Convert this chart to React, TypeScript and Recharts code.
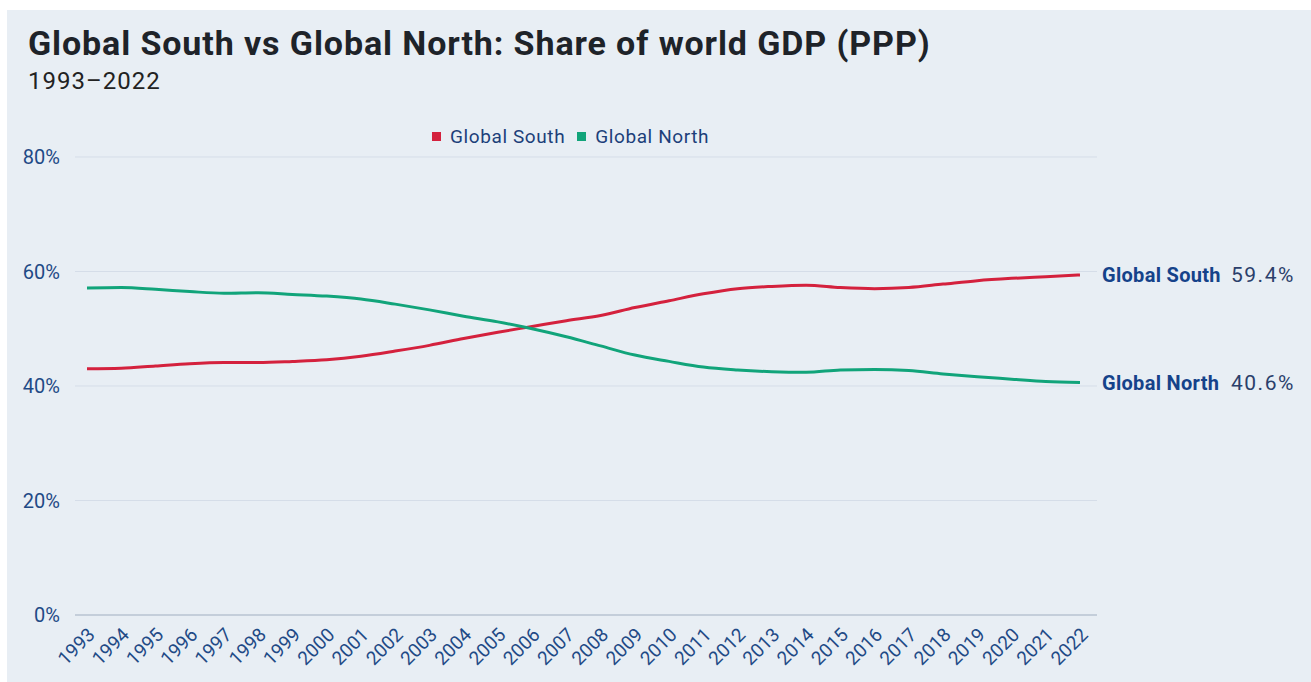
import { LineChart, Line, XAxis, YAxis, CartesianGrid } from 'recharts';

const years = [
  '1993', '1994', '1995', '1996', '1997', '1998', '1999', '2000', '2001', '2002',
  '2003', '2004', '2005', '2006', '2007', '2008', '2009', '2010', '2011', '2012',
  '2013', '2014', '2015', '2016', '2017', '2018', '2019', '2020', '2021', '2022',
];

const globalSouth = [
  43.0, 43.1, 43.5, 43.9, 44.1, 44.1, 44.3, 44.6, 45.2, 46.1,
  47.1, 48.3, 49.4, 50.4, 51.4, 52.3, 53.7, 54.9, 56.1, 57.0,
  57.4, 57.6, 57.2, 57.0, 57.2, 57.8, 58.4, 58.8, 59.1, 59.4,
];

const globalNorth = [
  57.1, 57.2, 56.9, 56.5, 56.2, 56.3, 56.0, 55.7, 55.2, 54.3,
  53.3, 52.2, 51.2, 50.0, 48.6, 47.0, 45.4, 44.3, 43.3, 42.8,
  42.5, 42.4, 42.8, 42.9, 42.7, 42.1, 41.6, 41.2, 40.8, 40.6,
];

const yTicks = [0, 20, 40, 60, 80];

const SOUTH_COLOR = '#d4213d';
const NORTH_COLOR = '#11a47a';
const BG = '#e8eef4';
const FONT = 'Roboto, "Noto Sans", sans-serif';

const data = years.map((year, i) => ({
  year,
  south: globalSouth[i],
  north: globalNorth[i],
}));

const YearTick = ({ x, y, payload }: any) => (
  <text
    x={x + 9}
    y={y + 13}
    transform={`rotate(-45, ${x + 9}, ${y + 13})`}
    textAnchor="end"
    fill="#1f4a86"
    fontSize={19}
    fontFamily={FONT}
  >
    {payload.value}
  </text>
);

const endLabel = (name: string, last: number) => (props: any) => {
  const { x, y, index, value } = props;
  if (index !== last) return null;
  return (
    <g fontFamily={FONT}>
      <text x={x + 22} y={y} dy="0.35em" fill="#15428a" fontWeight="bold" fontSize={20} letterSpacing={0.3}>
        {name}
      </text>
      <text x={x + 151} y={y} dy="0.35em" fill="#2b3f6b" fontSize={21} letterSpacing={1.5}>
        {`${value.toFixed(1)}%`}
      </text>
    </g>
  );
};

export default function App() {
  const last = years.length - 1;
  return (
    <div style={{ position: 'absolute', left: 0, top: 0, width: 1311, height: 682, background: '#fff', overflow: 'hidden' }}>
      <div style={{ position: 'absolute', left: 7, top: 10, width: 1304, height: 672, background: BG, fontFamily: FONT }}>
        <div style={{ position: 'absolute', left: 21, top: 13, fontSize: 34, letterSpacing: 0.9, fontWeight: 'bold', color: '#1e2329', whiteSpace: 'nowrap' }}>
          Global South vs Global North: Share of world GDP (PPP)
        </div>
        <div style={{ position: 'absolute', left: 21, top: 57, fontSize: 24, letterSpacing: 1, color: '#222', whiteSpace: 'nowrap' }}>
          1993–2022
        </div>
        <div style={{ position: 'absolute', left: 425, top: 115, fontSize: 19, letterSpacing: 0.6, color: '#1c3f7a', display: 'flex', alignItems: 'center', whiteSpace: 'nowrap' }}>
          <span style={{ width: 9, height: 9, background: SOUTH_COLOR, marginRight: 9, display: 'inline-block' }} />
          <span style={{ marginRight: 12 }}>Global South</span>
          <span style={{ width: 9, height: 9, background: NORTH_COLOR, marginRight: 9, display: 'inline-block' }} />
          <span>Global North</span>
        </div>
        <div style={{ position: 'absolute', left: 0, top: 0 }}>
          <LineChart
            width={1304}
            height={672}
            data={data}
            margin={{ top: 147, right: 214, bottom: 7, left: 8 }}
          >
            <CartesianGrid horizontal vertical={false} stroke="#d5dde8" />
            <XAxis
              dataKey="year"
              interval={0}
              height={60}
              padding={{ left: 12, right: 17 }}
              axisLine={{ stroke: '#aab6c6' }}
              tickLine={false}
              tick={<YearTick />}
            />
            <YAxis
              domain={[0, 80]}
              ticks={yTicks}
              width={60}
              axisLine={false}
              tickLine={false}
              tickMargin={9}
              tickFormatter={(v) => `${v}%`}
              tick={{ fill: '#1f4a86', fontSize: 20, fontFamily: FONT }}
            />
            <Line
              type="monotone"
              dataKey="south"
              stroke={SOUTH_COLOR}
              strokeWidth={3}
              dot={false}
              isAnimationActive={false}
              label={endLabel('Global South', last)}
            />
            <Line
              type="monotone"
              dataKey="north"
              stroke={NORTH_COLOR}
              strokeWidth={3}
              dot={false}
              isAnimationActive={false}
              label={endLabel('Global North', last)}
            />
          </LineChart>
        </div>
      </div>
    </div>
  );
}
